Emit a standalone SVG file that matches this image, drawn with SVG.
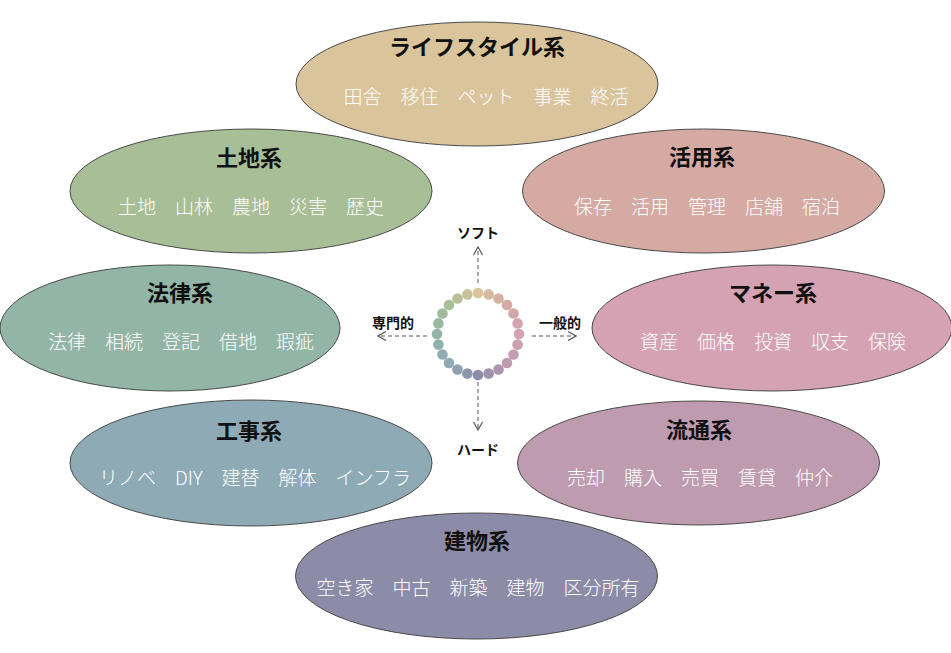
<svg xmlns="http://www.w3.org/2000/svg" width="951" height="653" viewBox="0 0 951 653">
<defs>
<style>
.el{stroke:#4a4a4a;stroke-width:1}
.t{font-family:"Noto Sans CJK JP","Noto Sans CJK SC",sans-serif;font-size:22px;font-weight:bold;fill:#111;text-anchor:middle}
.i{font-family:"Noto Sans CJK JP","Noto Sans CJK SC",sans-serif;font-size:19px;font-weight:300;fill:#fff;text-anchor:middle}
.ax{font-family:"Noto Sans CJK JP","Noto Sans CJK SC",sans-serif;font-size:14px;font-weight:bold;fill:#111;text-anchor:middle}
.ar{stroke:#555;stroke-width:1;stroke-dasharray:4 3;fill:none;marker-end:url(#chev)}
.d{stroke:none}
</style>
<marker id="chev" viewBox="0 0 10 10" refX="9" refY="5" markerWidth="10" markerHeight="10" markerUnits="userSpaceOnUse" orient="auto">
<path d="M1,0.5 L9,5 L1,9.5" fill="none" stroke="#555" stroke-width="1.2"/>
</marker>
</defs>
<rect width="951" height="653" fill="#fff"/>

<g id="lifestyle">
<ellipse class="el" cx="477" cy="84" rx="181" ry="62" fill="#d9c49b"/>
<text class="t" x="477" y="55">ライフスタイル系</text>
<text class="i" x="486" y="104">田舎　移住　ペット　事業　終活</text>
</g>
<g id="tochi">
<ellipse class="el" cx="251" cy="191" rx="181" ry="62" fill="#a7be96"/>
<text class="t" x="249" y="166">土地系</text>
<text class="i" x="251" y="214">土地　山林　農地　災害　歴史</text>
</g>
<g id="katsuyo">
<ellipse class="el" cx="703.5" cy="191" rx="181" ry="62" fill="#d4aaa3"/>
<text class="t" x="702" y="165">活用系</text>
<text class="i" x="707" y="214">保存　活用　管理　店舗　宿泊</text>
</g>
<g id="horitsu">
<ellipse class="el" cx="170" cy="328" rx="170" ry="63" fill="#93b5a8"/>
<text class="t" x="180" y="301">法律系</text>
<text class="i" x="181" y="349">法律　相続　登記　借地　瑕疵</text>
</g>
<g id="money">
<ellipse class="el" cx="772" cy="328" rx="180" ry="63" fill="#d4a2b2"/>
<text class="t" x="773" y="301">マネー系</text>
<text class="i" x="773" y="349">資産　価格　投資　収支　保険</text>
</g>
<g id="koji">
<ellipse class="el" cx="251" cy="463" rx="181" ry="63" fill="#8eaab5"/>
<text class="t" x="249" y="439">工事系</text>
<text class="i" x="255" y="485">リノベ　DIY　建替　解体　インフラ</text>
</g>
<g id="ryutsu">
<ellipse class="el" cx="698.5" cy="463" rx="181" ry="62" fill="#bf9bb0"/>
<text class="t" x="699" y="438">流通系</text>
<text class="i" x="700" y="485">売却　購入　売買　賃貸　仲介</text>
</g>
<g id="tatemono">
<ellipse class="el" cx="476.5" cy="576" rx="181" ry="63" fill="#8d8ca8"/>
<text class="t" x="477" y="549">建物系</text>
<text class="i" x="478" y="595">空き家　中古　新築　建物　区分所有</text>
</g>

<g id="ring">
<circle class="d" cx="478" cy="293" r="5.3" fill="#d9c49b"/>
<circle class="d" cx="488.61" cy="294.40" r="5.3" fill="#d7bb9e"/>
<circle class="d" cx="498.5" cy="298.49" r="5.3" fill="#d6b3a0"/>
<circle class="d" cx="506.99" cy="305.01" r="5.3" fill="#d4aaa3"/>
<circle class="d" cx="513.51" cy="313.5" r="5.3" fill="#d4a7a8"/>
<circle class="d" cx="517.60" cy="323.39" r="5.3" fill="#d4a5ad"/>
<circle class="d" cx="519" cy="334" r="5.3" fill="#d4a2b2"/>
<circle class="d" cx="517.60" cy="344.61" r="5.3" fill="#cda0b1"/>
<circle class="d" cx="513.51" cy="354.5" r="5.3" fill="#c69db1"/>
<circle class="d" cx="506.99" cy="362.99" r="5.3" fill="#bf9bb0"/>
<circle class="d" cx="498.5" cy="369.51" r="5.3" fill="#ae96ad"/>
<circle class="d" cx="488.61" cy="373.60" r="5.3" fill="#9e91ab"/>
<circle class="d" cx="478" cy="375" r="5.3" fill="#8d8ca8"/>
<circle class="d" cx="467.39" cy="373.60" r="5.3" fill="#8d96ac"/>
<circle class="d" cx="457.5" cy="369.51" r="5.3" fill="#8da0b1"/>
<circle class="d" cx="449.01" cy="362.99" r="5.3" fill="#8eaab5"/>
<circle class="d" cx="442.49" cy="354.5" r="5.3" fill="#90aeb1"/>
<circle class="d" cx="438.40" cy="344.61" r="5.3" fill="#91b1ac"/>
<circle class="d" cx="437" cy="334" r="5.3" fill="#93b5a8"/>
<circle class="d" cx="438.40" cy="323.39" r="5.3" fill="#9ab8a2"/>
<circle class="d" cx="442.49" cy="313.5" r="5.3" fill="#a0bb9c"/>
<circle class="d" cx="449.01" cy="305.01" r="5.3" fill="#a7be96"/>
<circle class="d" cx="457.5" cy="298.49" r="5.3" fill="#b8c098"/>
<circle class="d" cx="467.39" cy="294.40" r="5.3" fill="#c8c299"/>
</g>

<g id="connectors">
<line class="ar" x1="478" y1="283" x2="478" y2="247"/>
<line class="ar" x1="478" y1="382" x2="478" y2="430"/>
<line class="ar" x1="427" y1="336" x2="378" y2="336"/>
<line class="ar" x1="532" y1="336" x2="576" y2="336"/>
</g>
<g id="axis-labels">
<text class="ax" x="478" y="238">ソフト</text>
<text class="ax" x="478" y="455">ハード</text>
<text class="ax" x="393" y="328">専門的</text>
<text class="ax" x="560" y="328">一般的</text>
</g>
</svg>
